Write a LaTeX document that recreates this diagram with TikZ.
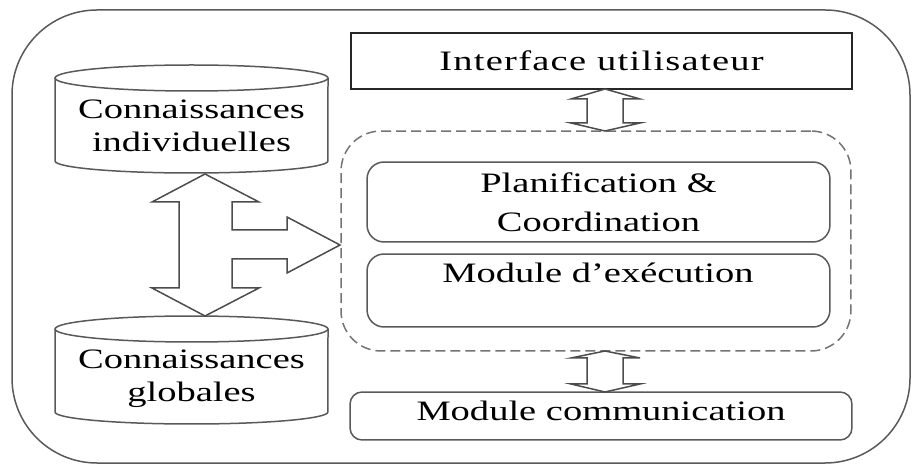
\documentclass[tikz,border=0pt]{standalone}
\usepackage{fontspec}
\setmainfont[FakeStretch=1.37]{Liberation Serif}

\tikzset{
  linegray/.style={draw=black!65, line width=0.03cm},
  dbtext/.style={align=center, inner sep=0pt, font=\fontsize{16}{19}\selectfont},
  modbox/.style={linegray, rounded corners=0.34cm, minimum width=9.26cm,
    font=\fontsize{16}{19}\selectfont},
  blockarrow/.style={draw=black!70, line width=0.03cm, line join=miter}
}

\begin{document}
\begin{tikzpicture}[x=0.02cm, y=-0.02cm]
                    \useasboundingbox (0,0) rectangle (912,465);%

                    % Outer frame
                    \draw [linegray, rounded corners=1.7cm] (12,10) rectangle (910,463);%

                    % Drawing the two cylinders (top ellipse centre at \cy)
                    \foreach \cy in {78,329} {
                      \draw [linegray] (55,\cy) -- (55,\cy+83)
                            arc [start angle=180, end angle=360, x radius=2.73cm, y radius=0.24cm]
                            -- (328,\cy);%
                      \draw [linegray] (191.5,\cy) ellipse [x radius=2.73cm, y radius=0.26cm];%
                    }

                    % Knowledge bases
                    \node [dbtext] (indiv) at (191.5,126) {Connaissances\\individuelles};%
                    \node [dbtext] (glob) at (191.5,379) {Connaissances\\globales};%

                    % User interface
                    \node [draw=black!85, line width=0.03cm, minimum width=10.02cm,
                           minimum height=1.12cm,
                           font=\fontsize{16}{19}\selectfont\addfontfeature{LetterSpace=4.5}]
                          (ui) at (601.5,61) {Interface utilisateur};%

                    % Dashed control unit
                    \node [draw=black!55, line width=0.03cm, dash pattern=on 0.2cm off 0.1cm,
                           rounded corners=0.8cm, minimum width=10.2cm, minimum height=4.4cm]
                          (ctrl) at (596,241) {};%

                    % Planning and execution modules
                    \node [modbox, minimum height=1.6cm, align=center,
                           font=\fontsize{16}{22}\selectfont]
                          (plan) at (598.5,202) {Planification \&\\Coordination};%
                    \node [modbox, minimum height=1.46cm] (exec) at (598.5,290.5) {};%
                    \node [anchor=base, font=\fontsize{16}{19}\selectfont]
                          (execlbl) at (598,283) {Module d’exécution};%

                    % Communication module
                    \node [modbox, minimum width=10.04cm, minimum height=0.96cm,
                           rounded corners=0.24cm] (comm) at (601,416) {};%
                    \node [anchor=base, font=\fontsize{16}{19}\selectfont]
                          (commlbl) at (601,420) {Module communication};%

                    % Block arrow between the knowledge bases, branching to the control unit
                    \draw [blockarrow] (205,174) -- (259,202) -- (232,202) -- (232,230)
                          -- (287,230) -- (287,217) -- (340,245) -- (287,273) -- (287,259)
                          -- (232,259) -- (232,288) -- (259,288) -- (205,316) -- (152,288)
                          -- (179,288) -- (179,202) -- (152,202) -- cycle;%

                    % Double arrow interface - control unit
                    \draw [blockarrow] (605,89) -- (640,99) -- (623,99) -- (623,123)
                          -- (640,123) -- (605,131) -- (571,123) -- (587,123) -- (587,99)
                          -- (571,99) -- cycle;%

                    % Double arrow control unit - communication
                    \draw [blockarrow] (605,351) -- (640,358) -- (623,358) -- (623,384)
                          -- (640,384) -- (605,392) -- (571,384) -- (587,384) -- (587,358)
                          -- (571,358) -- cycle;%
\end{tikzpicture}
\end{document}
